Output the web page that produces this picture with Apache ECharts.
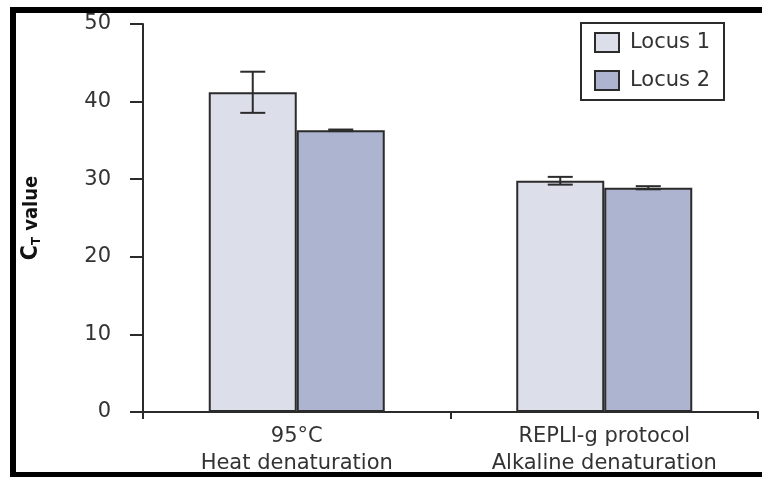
<!DOCTYPE html>
<html><head><meta charset="utf-8">
<script src="https://cdn.jsdelivr.net/npm/echarts@6/dist/echarts.min.js"></script>
<style>html,body{margin:0;padding:0;background:#fff;overflow:hidden}#c{width:762px;height:477px}</style>
</head><body><div id="c"></div>
<script>
var categories = ['95°C\nHeat denaturation', 'REPLI-g protocol\nAlkaline denaturation'];
var seriesNames = ['Locus 1', 'Locus 2'];
var locus1 = [41.2, 29.8];
var locus2 = [36.3, 28.9];
var locus1Err = [2.65, 0.5];
var locus2Err = [0.1, 0.2];
var yTicks = [0, 10, 20, 30, 40, 50];

var BAR_W = 88;
var colors = ['#dcdee9', '#adb4cf'];
var font = 'DejaVu Sans';
var nameFont = '"DejaVu Sans Condensed", "Liberation Sans Narrow", "DejaVu Sans", sans-serif';
var ink = '#2b2b2b';

function errSeries(vals, errs, sign) {
  return {
    type: 'custom',
    silent: true,
    z: 5,
    data: vals.map(function (v, i) { return [i, v, errs[i]]; }),
    renderItem: function (params, api) {
      var i = api.value(0), v = api.value(1), e = api.value(2);
      var top = api.coord([i, v + e]);
      var bot = api.coord([i, v - e]);
      var x = top[0] + sign * BAR_W / 2;
      var cap = 12.5;
      var st = { stroke: ink, lineWidth: 2 };
      return { type: 'group', children: [
        { type: 'line', shape: { x1: x, y1: top[1], x2: x, y2: bot[1] }, style: st },
        { type: 'line', shape: { x1: x - cap, y1: top[1], x2: x + cap, y2: top[1] }, style: st },
        { type: 'line', shape: { x1: x - cap, y1: bot[1], x2: x + cap, y2: bot[1] }, style: st }
      ]};
    }
  };
}

var chart = echarts.init(document.getElementById('c'), null, { renderer: 'canvas' });
chart.setOption({
  animation: false,
  backgroundColor: '#fff',
  grid: { left: 143, right: 4, top: 24, bottom: 64 },
  graphic: [
    { type: 'rect', shape: { x: 10, y: 7, width: 752, height: 6 }, style: { fill: '#000' } },
    { type: 'rect', shape: { x: 10, y: 7, width: 6, height: 470 }, style: { fill: '#000' } },
    { type: 'rect', shape: { x: 10, y: 472, width: 752, height: 5 }, style: { fill: '#000' } }
  ],
  legend: {
    orient: 'vertical',
    left: 581, top: 23,
    padding: [9, 14, 9, 13],
    itemWidth: 24, itemHeight: 19, itemGap: 17,
    borderColor: ink, borderWidth: 2,
    icon: 'rect',
    data: seriesNames,
    textStyle: { fontFamily: font, fontSize: 21, color: '#333', padding: [0, 0, 0, 6] }
  },
  xAxis: {
    type: 'category',
    data: categories,
    axisLine: { lineStyle: { color: ink, width: 2 } },
    axisTick: { show: true, length: 7, lineStyle: { color: ink, width: 2 } },
    axisLabel: { fontFamily: font, fontSize: 21, color: '#333', lineHeight: 27, margin: 11 }
  },
  yAxis: {
    type: 'value',
    min: yTicks[0], max: yTicks[yTicks.length - 1], interval: 10,
    splitLine: { show: false },
    axisLine: { show: true, lineStyle: { color: ink, width: 2 } },
    axisTick: { show: true, length: 13, lineStyle: { color: ink, width: 2 } },
    axisLabel: { fontFamily: font, fontSize: 21, color: '#333', margin: 32 },
    name: '{c|C}{t|T}{v| value}',
    nameLocation: 'middle',
    nameGap: 100,
    nameTextStyle: {
      rich: {
        c: { fontFamily: nameFont, fontWeight: 'bold', fontSize: 23, color: '#111' },
        t: { fontFamily: nameFont, fontWeight: 'bold', fontSize: 13, color: '#111', verticalAlign: 'bottom', padding: [9, 0, 0, 0] },
        v: { fontFamily: nameFont, fontWeight: 'bold', fontSize: 20, color: '#111' }
      }
    }
  },
  series: [
    { name: seriesNames[0], type: 'bar', data: locus1, barWidth: BAR_W, barGap: '0%',
      itemStyle: { color: colors[0], borderColor: ink, borderWidth: 2 } },
    { name: seriesNames[1], type: 'bar', data: locus2, barWidth: BAR_W, barGap: '0%',
      itemStyle: { color: colors[1], borderColor: ink, borderWidth: 2 } },
    errSeries(locus1, locus1Err, -1),
    errSeries(locus2, locus2Err, 1)
  ]
});
</script></body></html>
